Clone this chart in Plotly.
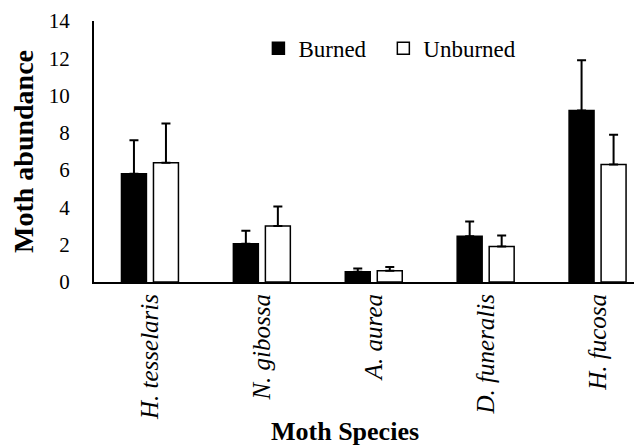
import plotly.graph_objects as go

# ---------- Data ---------- #
species = ["H. tesselaris", "N. gibossa", "A. aurea", "D. funeralis", "H. fucosa"]
burned = [5.8, 2.05, 0.55, 2.45, 9.2]
burned_err = [1.8, 0.7, 0.18, 0.8, 2.7]
unburned = [6.4, 3.0, 0.6, 1.9, 6.3]
unburned_err = [2.1, 1.05, 0.2, 0.6, 1.6]

FONT = "Liberation Serif"

fig = go.Figure()
fig.add_trace(go.Bar(
    x=species, y=burned, name="Burned", legend="legend", showlegend=True,
    marker=dict(color="black", line=dict(color="black", width=1.5)),
    error_y=dict(type="data", array=burned_err, arrayminus=[0] * len(species),
                 symmetric=False, color="black", thickness=2, width=4.5),
))
fig.add_trace(go.Bar(
    x=species, y=unburned, name="Unburned", legend="legend2", showlegend=True,
    marker=dict(color="white", line=dict(color="black", width=1.5)),
    error_y=dict(type="data", array=unburned_err, arrayminus=[0] * len(species),
                 symmetric=False, color="black", thickness=2, width=4.5),
))

# page has an 8px body margin, so margins are trimmed by 8px
legend_style = dict(orientation="h", xanchor="left", y=0.895, yanchor="middle",
                    font=dict(size=23, family=FONT), bgcolor="rgba(0,0,0,0)",
                    itemclick=False, visible=True)
fig.update_layout(
    width=642, height=446,
    margin=dict(l=86, r=8, t=13, b=172),
    paper_bgcolor="white", plot_bgcolor="white",
    font=dict(family=FONT, color="black", size=21),
    showlegend=True,
    barmode="group", bargap=0.428, bargroupgap=0.22,
    legend=dict(x=0.3, **legend_style),
    legend2=dict(x=0.528, **legend_style),
    annotations=[dict(text="<b>Moth Species</b>", xref="paper", yref="paper",
                      x=(345 - 94) / 548, y=-0.572, xanchor="center", yanchor="middle",
                      showarrow=False, font=dict(size=26, family=FONT))],
)
fig.update_xaxes(
    range=[-0.5, 4.397], showline=True, linecolor="black", linewidth=2,
    showgrid=False, ticks="", tickangle=-90, automargin=False,
    tickfont=dict(size=25, family=FONT, style="italic"),
)
fig.update_yaxes(
    range=[0, 14], dtick=2, showline=True, linecolor="black", linewidth=2,
    showgrid=False, zeroline=False, ticks="", automargin=False,
    ticklabelstandoff=18,
    tickfont=dict(size=21, family=FONT),
    title=dict(text="<b>Moth abundance</b>", font=dict(size=28, family=FONT), standoff=8),
)

fig.write_html("out.html")
